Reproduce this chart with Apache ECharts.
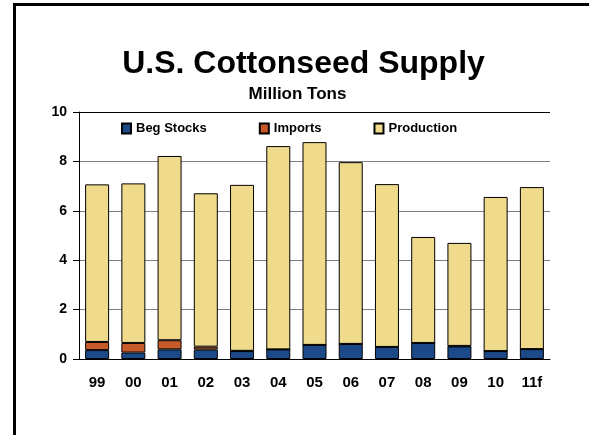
<!DOCTYPE html>
<html>
<head>
<meta charset="utf-8">
<script src="https://cdn.jsdelivr.net/npm/echarts@6/dist/echarts.min.js"></script>
<style>
  html, body { margin: 0; padding: 0; background: #fff; }
  #main { width: 589px; height: 435px; }
</style>
</head>
<body>
<div id="main"></div>
<script>
// values, million tons
const years = ['99', '00', '01', '02', '03', '04', '05', '06', '07', '08', '09', '10', '11f'];
const begStocks = [0.36, 0.26, 0.39, 0.38, 0.32, 0.39, 0.57, 0.61, 0.49, 0.65, 0.51, 0.32, 0.40];
const imports = [0.33, 0.39, 0.37, 0.12, 0.01, 0, 0, 0, 0, 0, 0.02, 0, 0];
const production = [6.38, 6.46, 7.46, 6.21, 6.72, 8.23, 8.21, 7.36, 6.59, 4.29, 4.17, 6.24, 6.56];
const yTicks = [0, 2, 4, 6, 8, 10];

const font = '"Liberation Sans", Arial, sans-serif';

var myChart = echarts.init(document.getElementById('main'));

myChart.setOption({
  animation: false,
  graphic: [
    {
      type: 'rect',
      shape: { x: 14.5, y: 4.5, width: 800, height: 800 },
      style: { fill: 'none', stroke: '#000', lineWidth: 3 }
    },
    {
      type: 'text',
      x: 303.5, y: 64.5,
      style: {
        text: 'U.S. Cottonseed Supply',
        font: 'bold 32px ' + font,
        fill: '#000',
        textAlign: 'center',
        textVerticalAlign: 'middle'
      }
    },
    {
      type: 'text',
      x: 297.5, y: 94.5,
      style: {
        text: 'Million Tons',
        font: 'bold 17px ' + font,
        fill: '#000',
        textAlign: 'center',
        textVerticalAlign: 'middle'
      }
    }
  ],
  legend: {
    left: 121,
    top: 122,
    padding: 0,
    icon: 'rect',
    itemWidth: 9,
    itemHeight: 10,
    itemGap: 52,
    textStyle: { fontFamily: font, fontWeight: 'bold', fontSize: 13, color: '#000' },
    data: ['Beg Stocks', 'Imports', 'Production']
  },
  grid: { left: 79, right: 39, top: 112, bottom: 76, containLabel: false },
  xAxis: {
    type: 'category',
    data: years,
    axisLine: { lineStyle: { color: '#000', width: 1 } },
    axisTick: { length: 5, lineStyle: { color: '#000' } },
    axisLabel: { margin: 16, fontFamily: font, fontWeight: 'bold', fontSize: 15, color: '#000' }
  },
  yAxis: {
    type: 'value',
    min: yTicks[0],
    max: yTicks[yTicks.length - 1],
    interval: 2,
    axisLine: { show: true, lineStyle: { color: '#000', width: 1 } },
    axisTick: { show: true, length: 6, lineStyle: { color: '#000' } },
    axisLabel: { margin: 12, fontFamily: font, fontWeight: 'bold', fontSize: 14, color: '#000' },
    splitLine: {
      lineStyle: { color: ['#808080', '#808080', '#808080', '#808080', '#808080', '#000'], width: 1 }
    }
  },
  series: [
    {
      name: 'Beg Stocks',
      type: 'bar',
      stack: 'supply',
      barWidth: 24,
      data: begStocks,
      itemStyle: { color: '#1c4a88', borderColor: '#000', borderWidth: 1 }
    },
    {
      name: 'Imports',
      type: 'bar',
      stack: 'supply',
      barWidth: 24,
      data: imports,
      itemStyle: { color: '#c65a28', borderColor: '#000', borderWidth: 1 }
    },
    {
      name: 'Production',
      type: 'bar',
      stack: 'supply',
      barWidth: 24,
      data: production,
      itemStyle: { color: '#efdb8b', borderColor: '#000', borderWidth: 1 }
    }
  ]
});
</script>
</body>
</html>
